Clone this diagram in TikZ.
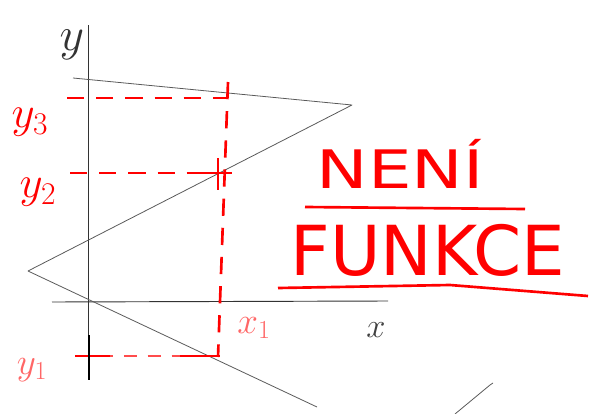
\RequirePackage{fix-cm}
\documentclass[tikz,border=0pt]{standalone}
\usepackage{fontspec}
\usepackage{tikz}
\newfontfamily\handfont{DejaVu Sans}

\begin{document}
\begin{tikzpicture}[
        x=0.0265cm, y=-0.0265cm,
        axis/.style={draw=black!80, line width=0.7pt},
        curve/.style={draw=black!65, line width=0.6pt, line join=round},
        helper/.style={draw=red, line width=2pt, dash pattern=on 13pt off 9pt},
        thinhelper/.style={draw=red!70, line width=1pt, dash pattern=on 10pt off 8pt},
        crossbar/.style={draw=red, line width=2pt},
        ylabel/.style={text=red, font=\fontsize{34}{34}\selectfont},
        xlabel/.style={text=red!60, font=\fontsize{28}{28}\selectfont},
        caption/.style={text=red, inner sep=0pt, font=\handfont\fontsize{40}{40}\selectfont},
        underline/.style={draw=red, line width=2pt}
    ]
        \useasboundingbox (0,0) rectangle (590,414);
        % axes
        \coordinate (ytop) at (88,25);
        \coordinate (ybot) at (88,335);
        \coordinate (xleft) at (52,302);
        \coordinate (xright) at (388,301);
        \draw[axis] (ytop) -- (ybot);
        \draw[axis] (xleft) -- (xright);
        \node[font=\fontsize{36}{36}\selectfont, text=black!80] (ylab) at (72,45) {$y$};
        \node[font=\fontsize{26}{26}\selectfont, text=black!75] (xlab) at (376,330) {$x$};
        % the zigzag
        \coordinate (p0) at (73,78);
        \coordinate (p1) at (352,105);
        \coordinate (p2) at (28,271);
        \coordinate (p3) at (317,407);
        \draw[curve] (p0) -- (p1) -- (p2) -- (p3);
        % stray stroke
        \coordinate (s0) at (455,414);
        \coordinate (s1) at (493,383);
        \draw[curve] (s0) -- (490,385) -- (s1);
        % helper lines
        \coordinate (h3) at (67,98);
        \coordinate (h2) at (70,173);
        \coordinate (h1) at (100,356);
        \coordinate (v0) at (228,82);
        \coordinate (v1) at (218,357);
        \draw[helper] (h3) -- (228,98);
        \draw[helper] (h2) -- (218,173);
        \draw[thinhelper] (h1) -- (218,356);
        \draw[helper] (v0) -- (v1);
        \draw[crossbar] (195,173) -- (232,173);
        \draw[crossbar] (218,158) -- (218,190);
        \draw[crossbar] (180,356) -- (220,356);
        \draw[crossbar] (75,356) -- (110,356);
        \draw[line width=1.6pt, black] (89,335) -- (89,380);
        % labels
        \node[ylabel] (y3) at (30,122) {$y_3$};
        \node[ylabel] (y2) at (38,192) {$y_2$};
        \node[xlabel] (y1) at (32,370) {$y_1$};
        \node[xlabel] (x1) at (254,328) {$x_1$};
        % the verdict
        \node[caption, xscale=1.3] (neni) at (400,164) {NENÍ};
        \node[caption, font=\handfont\fontsize{52}{52}\selectfont] (funkce) at (428,250) {FUNKCE};
        \draw[underline] (305,207) -- (525,209);
        \draw[underline] (278,288) -- (450,285) -- (588,296);
    \end{tikzpicture}
\end{document}
